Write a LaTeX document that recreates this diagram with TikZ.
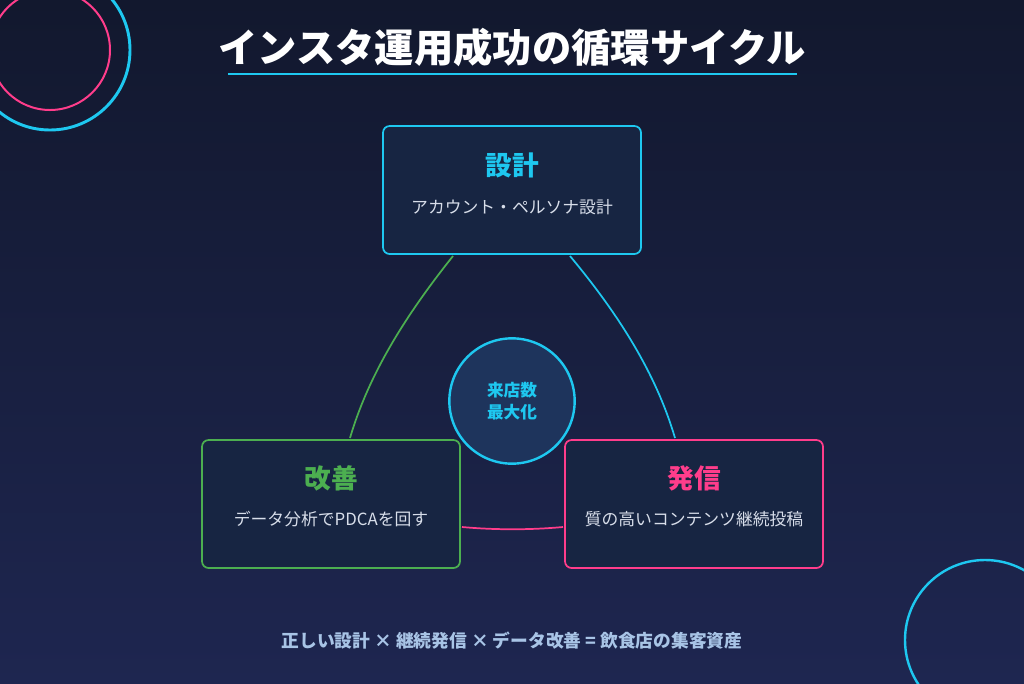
\documentclass[tikz,border=0pt]{standalone}
\usepackage{fontspec}
\setmainfont{Noto Sans CJK JP}
\definecolor{cy}{HTML}{1EC8F0}
\definecolor{gr}{HTML}{4CAF50}
\definecolor{pk}{HTML}{FF3D8B}
\definecolor{bx}{HTML}{172542}
\definecolor{sub}{HTML}{D8DEEA}
\definecolor{ft}{HTML}{A8C4E6}
\begin{document}
\begin{tikzpicture}[x=0.75pt,y=-0.75pt,
  card/.style={draw,line width=1.3pt,rounded corners=5pt,fill=bx,minimum width=193.5pt,minimum height=96pt},
  ttl/.style={font=\bfseries\fontsize{20}{23}\selectfont},
  subt/.style={text=sub,font=\fontsize{12.6}{15}\selectfont}]
\shade[top color={rgb,255:red,18;green,24;blue,46},bottom color={rgb,255:red,30;green,38;blue,80}] (0,0) rectangle (1024,683);
\useasboundingbox (0,0) rectangle (1024,683);
\draw[cy,line width=2.2pt] (50,50) circle (80);
\draw[pk,line width=1.5pt] (50,50) circle (60);
\draw[cy,line width=1.8pt] (985,640) circle (80);
\node[text=white,font=\bfseries\fontsize{29.5}{32}\selectfont] (t) at (512,48) {インスタ運用成功の循環サイクル};
\coordinate (u1) at (228,74); \coordinate (u2) at (797,74);
\draw[cy,line width=2.2pt] (u1) -- (u2);
\node[card,draw=cy] (top) at (512,190) {};
\node[card,draw=gr] (lft) at (331,504) {};
\node[card,draw=pk] (rgt) at (694,504) {};
\node[ttl,text=cy] (t1) at (512,165) {設計};
\node[subt] (s1) at (512,207) {アカウント・ペルソナ設計};
\node[ttl,text=gr] (t2) at (331,478) {改善};
\node[subt] (s2) at (331,519) {データ分析でPDCAを回す};
\node[ttl,text=pk] (t3) at (694,478) {発信};
\node[subt] (s3) at (694,519) {質の高いコンテンツ継続投稿};
\node[circle,draw=cy,line width=1.8pt,fill={rgb,255:red,30;green,52;blue,92},minimum size=94pt,align=center,text=cy,font=\bfseries\fontsize{12.5}{16.5}\selectfont] (c) at (512,401) {来店数\\最大化};
\coordinate (g1) at (453,256); \coordinate (g2) at (350,438);
\coordinate (b1) at (570,256); \coordinate (b2) at (675,438);
\coordinate (p1) at (462,527); \coordinate (p2) at (563,527);
\draw[gr,line width=1.3pt] (g1) .. controls (410,310) and (370,370) .. (g2);
\draw[cy,line width=1.3pt] (b1) .. controls (615,310) and (655,370) .. (b2);
\draw[pk,line width=1.3pt] (p1) .. controls (495,530) and (530,530) .. (p2);
\node[text=ft,font=\bfseries\fontsize{13.3}{16}\selectfont] (f) at (512,641) {正しい設計 × 継続発信 × データ改善 = 飲食店の集客資産};
\end{tikzpicture}
\end{document}
